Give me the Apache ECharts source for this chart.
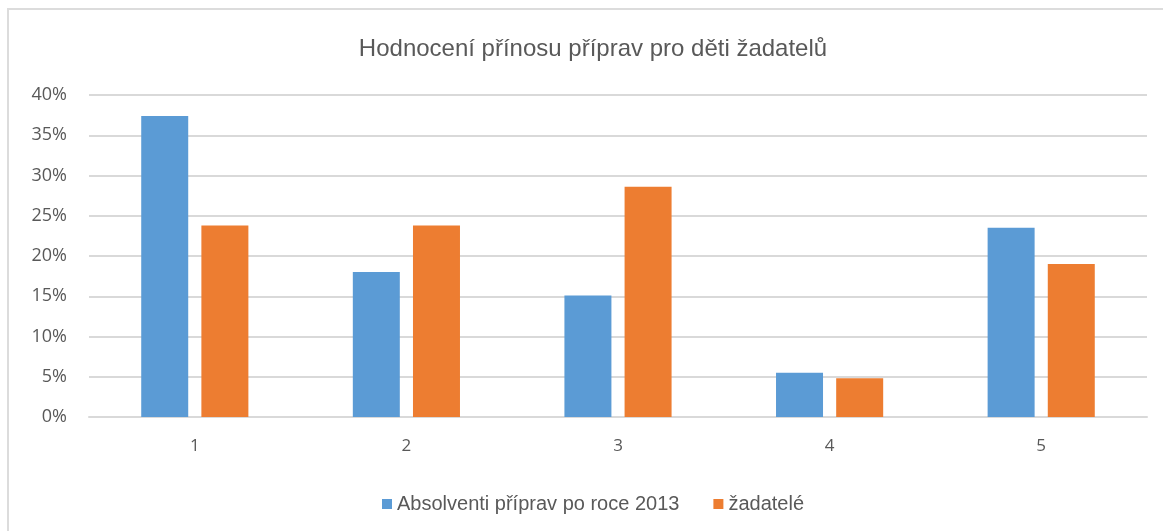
<!DOCTYPE html>
<html>
<head>
<meta charset="utf-8">
<script src="https://cdn.jsdelivr.net/npm/echarts@6/dist/echarts.min.js"></script>
<style>
  html, body { margin: 0; padding: 0; background: #fff; }
  #frame {
    position: absolute; left: 7px; top: 8px; width: 1170px; height: 540px;
    border-left: 2px solid #dcdcdc; border-top: 2px solid #dcdcdc;
  }
  #chart { position: absolute; left: 0; top: 0; width: 1163px; height: 531px; }
</style>
</head>
<body>
<div id="frame"></div>
<div id="chart"></div>
<script>
// hodnoty
const categories = ['1', '2', '3', '4', '5']
const seriesNames = ['Absolventi příprav po roce 2013', 'žadatelé']
const absolventi = [0.374, 0.180, 0.151, 0.055, 0.235]
const zadatele = [0.238, 0.238, 0.286, 0.048, 0.190]
const colors = ['#5b9bd5', '#ed7d31']

const chart = echarts.init(document.getElementById('chart'))
const narrow = '"Liberation Sans Narrow", "Arial Narrow", "Liberation Sans", sans-serif'

chart.setOption({
  animation: false,
  title: {
    text: 'Hodnocení přínosu příprav pro děti žadatelů',
    left: 588,
    textAlign: 'center',
    top: 32,
    textStyle: { fontFamily: narrow, fontSize: 24, fontWeight: 'normal', color: '#595959' }
  },
  legend: {
    bottom: 12,
    left: 377,
    itemWidth: 10,
    itemHeight: 10,
    itemGap: 34,
    icon: 'rect',
    textStyle: { fontFamily: narrow, fontSize: 20, color: '#595959' },
    data: seriesNames
  },
  grid: { left: 89, right: 16, top: 95, bottom: 114, containLabel: false },
  xAxis: {
    type: 'category',
    data: categories,
    axisLine: { lineStyle: { color: '#d9d9d9', width: 2 } },
    axisTick: { show: false },
    axisLabel: { color: '#595959', fontSize: 17, fontFamily: 'Open Sans', margin: 21 }
  },
  yAxis: {
    type: 'value',
    min: 0,
    max: 0.4,
    interval: 0.05,
    axisLine: { show: false },
    axisTick: { show: false },
    axisLabel: {
      color: '#595959', fontSize: 18, fontFamily: 'Open Sans', margin: 22,
      formatter: v => Math.round(v * 100) + '%'
    },
    splitLine: { lineStyle: { color: '#d9d9d9', width: 2 } }
  },
  series: [
    {
      name: seriesNames[0],
      type: 'bar',
      data: absolventi,
      barWidth: 47,
      barGap: '28%',
      itemStyle: { color: colors[0] }
    },
    {
      name: seriesNames[1],
      type: 'bar',
      data: zadatele,
      barWidth: 47,
      barGap: '28%',
      itemStyle: { color: colors[1] }
    }
  ]
})
</script>
</body>
</html>
